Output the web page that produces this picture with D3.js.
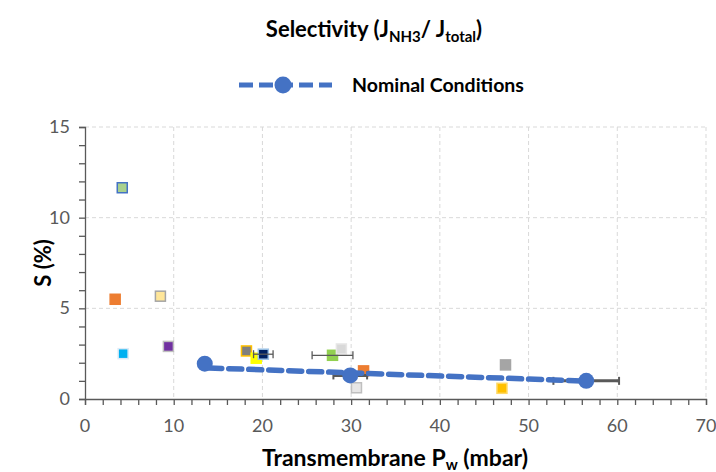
<!DOCTYPE html>
<html><head><meta charset="utf-8">
<script src="https://cdn.jsdelivr.net/npm/d3@7"></script>
<style>body{margin:0;background:#fff;} text{font-family:Lato,"Open Sans",sans-serif;}</style>
</head><body><svg id="c" width="716" height="472"></svg>
<script>
// Nominal conditions
const nomX = [13.5, 29.9, 56.5];
const nomY = [1.95, 1.3, 1.0];
const nomErr = [0, 1.9, 3.7];
// Linear trend (dashed) endpoints
const trendX = [13.5, 56.5];
const trendY = [1.72, 0.99];
// Other test points (squares)
const sqX = [4.2, 3.4, 8.5, 4.3, 9.4, 18.2, 19.3, 20.1, 27.9, 28.9, 31.4, 30.6, 47.4, 47.0];
const sqY = [11.65, 5.5, 5.67, 2.5, 2.9, 2.65, 2.25, 2.47, 2.41, 2.76, 1.55, 0.62, 1.88, 0.59];
const sqErr = [0, 0, 0, 0, 0, 0, 0, 1.1, 2.3, 0, 0, 0, 0, 0];
const sqFill = ["#A9D18E","#ED7D31","#FFE699","#00B0F0","#7030A0","#7F7F7F","#FFFF00","#002060","#92D050","#D9D9D9","#ED7D31","#E7E6E6","#A5A5A5","#FFC000"];
const sqStroke = ["#4472C4","#ED7D31","#A5A5A5","#DDEBF7","#BFBFBF","#FFC000","#FFFF00","#9DC3E6","#92D050","#E7E6E6","#ED7D31","#BFBFBF","#A5A5A5","#FFD966"];
const xTicks = [0,10,20,30,40,50,60,70];
const yTicks = [0,5,10,15];

const svg = d3.select("#c");
const x = d3.scaleLinear().domain([0,70]).range([85,706]);
const y = d3.scaleLinear().domain([0,15]).range([399,127]);
const axisCol = "#595959";

// grid
svg.append("g").selectAll("line.v").data(xTicks.slice(1)).join("line")
  .attr("x1",d=>x(d)).attr("x2",d=>x(d)).attr("y1",y(15)).attr("y2",y(0))
  .attr("stroke","#D9D9D9").attr("stroke-dasharray","4,3");
svg.append("g").selectAll("line.h").data(yTicks.slice(1)).join("line")
  .attr("x1",x(0)).attr("x2",x(70)).attr("y1",d=>y(d)).attr("y2",d=>y(d))
  .attr("stroke","#D9D9D9").attr("stroke-dasharray","4,3");

// axes
const xAx = svg.append("g").attr("transform",`translate(0,${y(0)})`)
  .call(d3.axisBottom(x).tickValues(d3.range(0,71,2)).tickSize(6).tickFormat(""));
const yAx = svg.append("g").attr("transform",`translate(${x(0)},0)`)
  .call(d3.axisLeft(y).tickValues(d3.range(0,16,1)).tickSize(6).tickFormat(""));
[xAx,yAx].forEach(g=>{g.selectAll("path,line").attr("stroke",axisCol).attr("stroke-width",1.3);});
svg.append("g").selectAll("text").data(xTicks).join("text")
  .attr("x",d=>x(d)).attr("y",432).attr("text-anchor","middle")
  .attr("font-size",18).attr("fill",axisCol).text(d=>d);
svg.append("g").selectAll("text").data(yTicks).join("text")
  .attr("x",70).attr("y",d=>y(d)+6).attr("text-anchor","end")
  .attr("font-size",18).attr("fill",axisCol).text(d=>d);

// squares
const sq = d3.range(sqX.length);
const s = 10;
svg.append("g").selectAll("rect").data(sq).join("rect")
  .attr("x",i=>x(sqX[i])-s/2).attr("y",i=>y(sqY[i])-s/2).attr("width",s).attr("height",s)
  .attr("fill",i=>sqFill[i]).attr("stroke",i=>sqStroke[i]).attr("stroke-width",1.5);
// square error bars
const eb = svg.append("g").attr("stroke",axisCol).attr("stroke-width",1.3);
sq.filter(i=>sqErr[i]>0).forEach(i=>{
  const x1=x(sqX[i]-sqErr[i]), x2=x(sqX[i]+sqErr[i]), yy=y(sqY[i]);
  eb.append("line").attr("x1",x1).attr("x2",x2).attr("y1",yy).attr("y2",yy);
  eb.append("line").attr("x1",x1).attr("x2",x1).attr("y1",yy-4).attr("y2",yy+4);
  eb.append("line").attr("x1",x2).attr("x2",x2).attr("y1",yy-4).attr("y2",yy+4);
});
// nominal error bars
const eb2 = svg.append("g").attr("stroke",axisCol).attr("stroke-width",3);
nomX.forEach((d,i)=>{
  if(!nomErr[i]) return;
  const x1=x(d-nomErr[i]), x2=x(d+nomErr[i]), yy=y(nomY[i]);
  eb2.append("line").attr("x1",x1).attr("x2",x2).attr("y1",yy).attr("y2",yy);
  eb2.append("line").attr("x1",x1).attr("x2",x1).attr("y1",yy-4).attr("y2",yy+4).attr("stroke-width",2);
  eb2.append("line").attr("x1",x2).attr("x2",x2).attr("y1",yy-4).attr("y2",yy+4).attr("stroke-width",2);
});
// trend line
const blue = "#4472C4";
svg.append("path").datum(d3.range(trendX.length))
  .attr("d",d3.line().x(i=>x(trendX[i])).y(i=>y(trendY[i])))
  .attr("stroke",blue).attr("stroke-width",5.5).attr("fill","none")
  .attr("stroke-dasharray","13,7").attr("stroke-linecap","round").attr("stroke-dashoffset",-4);
// circles
svg.append("g").selectAll("circle").data(nomX).join("circle")
  .attr("cx",d=>x(d)).attr("cy",(d,i)=>y(nomY[i])).attr("r",8).attr("fill",blue);

// title
const t = svg.append("text").attr("x",374).attr("y",37).attr("text-anchor","middle")
  .attr("font-size",22).attr("font-weight","bold").attr("fill","#000");
t.append("tspan").text("Selectivity (J");
t.append("tspan").attr("font-size",15).attr("dy",5).text("NH3");
t.append("tspan").attr("dy",-5).text("/ J");
t.append("tspan").attr("font-size",15).attr("dy",5).text("total");
t.append("tspan").attr("dy",-5).text(")");

// legend
svg.append("line").attr("x1",239).attr("x2",332).attr("y1",85).attr("y2",85)
  .attr("stroke",blue).attr("stroke-width",5).attr("stroke-dasharray","14,6");
svg.append("circle").attr("cx",283).attr("cy",85).attr("r",8.5).attr("fill",blue);
svg.append("text").attr("x",352).attr("y",92).attr("font-size",19.5).attr("font-weight","bold").text("Nominal Conditions");

// axis titles
const xt = svg.append("text").attr("x",395).attr("y",466).attr("text-anchor","middle")
  .attr("font-size",23).attr("font-weight","bold");
xt.append("tspan").text("Transmembrane P");
xt.append("tspan").attr("font-size",15).attr("dy",4).text("w");
xt.append("tspan").attr("dy",-4).text(" (mbar)");
svg.append("text").attr("transform","translate(51,263) rotate(-90)").attr("text-anchor","middle")
  .attr("font-size",22).attr("font-weight","bold").text("S (%)");
</script></body></html>
